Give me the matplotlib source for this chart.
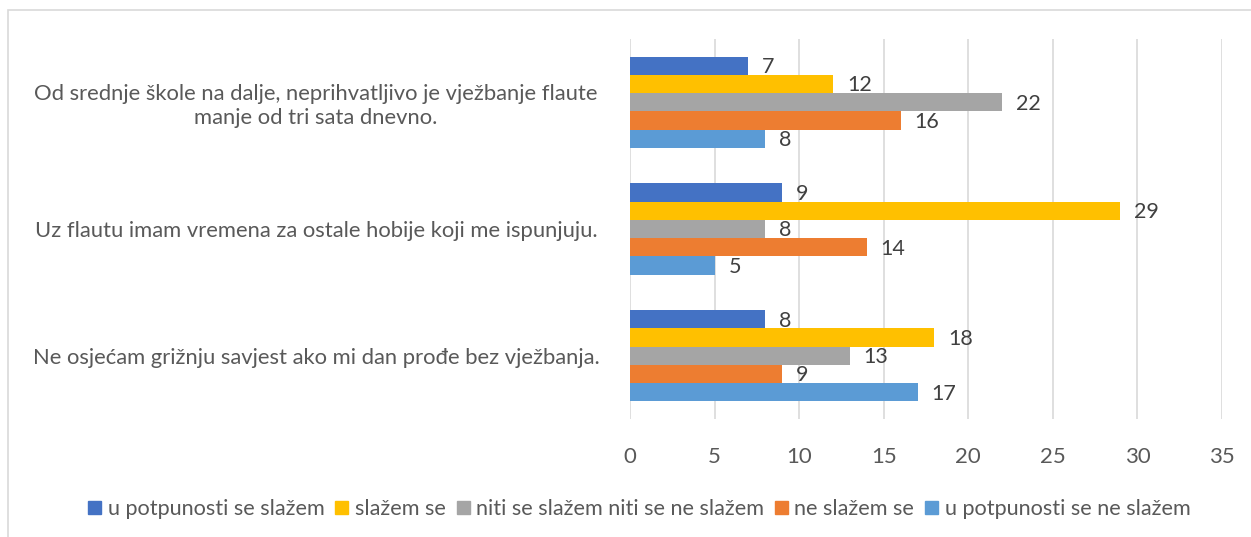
import matplotlib.pyplot as plt
import matplotlib.patches as mpatches
import numpy as np

plt.rcParams['font.family'] = ['Lato', 'DejaVu Sans']

# categories listed top to bottom
categories = [
    "Od srednje škole na dalje, neprihvatljivo je vježbanje flaute\nmanje od tri sata dnevno.",
    "Uz flautu imam vremena za ostale hobije koji me ispunjuju.",
    "Ne osjećam grižnju savjest ako mi dan prođe bez vježbanja.",
]
series_names = [
    "u potpunosti se slažem",
    "slažem se",
    "niti se slažem niti se ne slažem",
    "ne slažem se",
    "u potpunosti se ne slažem",
]
values = [
    [7, 9, 8],
    [12, 29, 18],
    [22, 8, 13],
    [16, 14, 9],
    [8, 5, 17],
]
colors = ["#4472C4", "#FFC000", "#A5A5A5", "#ED7D31", "#5B9BD5"]
ticks = [0, 5, 10, 15, 20, 25, 30, 35]

fig = plt.figure(figsize=(12.51, 5.37), dpi=100)
ax = fig.add_axes([0.5036, 0.2197, 0.4732, 0.7077])

# frame around the whole chart
fig.patches.append(mpatches.Rectangle((8 / 1251, -0.1), 1.2, 1 - 10 / 537 + 0.1,
                                      transform=fig.transFigure, fill=False,
                                      edgecolor="#D9D9D9", linewidth=1.2))

n = len(series_names)
bar_h = 0.72 / n
ycent = np.arange(len(categories))
for i, (name, vals) in enumerate(zip(series_names, values)):
    y = ycent - 0.36 + bar_h * (i + 0.5)
    ax.barh(y, vals, height=bar_h, color=colors[i], label=name, zorder=3)
    for yy, v in zip(y, vals):
        ax.annotate(str(v), (v, yy), xytext=(10, -1), textcoords="offset points",
                    va="center", ha="left", fontsize=15.5, color="#404040")

ax.set_ylim(len(categories) - 0.5, -0.5)
ax.set_xlim(0, 35)
ax.set_xticks(ticks)
ax.set_yticks(ycent)
ax.set_yticklabels(categories, fontsize=15.8, color="#595959", ha="center", linespacing=1.2)
ax.tick_params(axis="y", length=0, pad=226)
ax.tick_params(axis="x", length=0, labelsize=16, labelcolor="#595959", pad=20)
ax.grid(axis="x", color="#D9D9D9", linewidth=1.2, zorder=0)
for s in ax.spines.values():
    s.set_visible(False)

handles = [mpatches.Patch(color=c) for c in colors]
fig.legend(handles, series_names, loc="center", bbox_to_anchor=(0.511, 0.052), ncol=5,
           frameon=False, fontsize=15.6, labelcolor="#595959", handlelength=0.6,
           handleheight=0.6, handletextpad=0.3, columnspacing=0.5)

fig.savefig("out.png", dpi=100)
